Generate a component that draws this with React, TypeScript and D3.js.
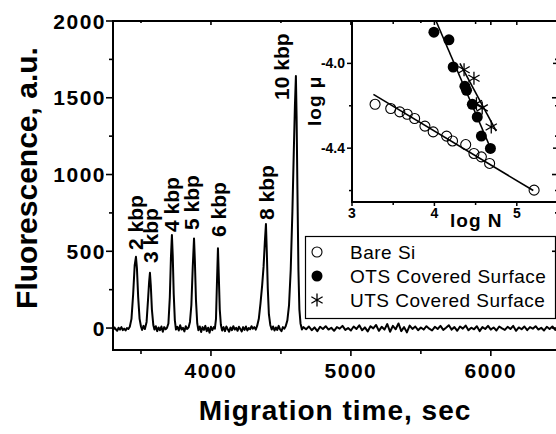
import { useEffect, useRef } from 'react';
import * as d3 from 'd3';

const W = 556,
    H = 434;

// electropherogram: [migration time (s), fluorescence (a.u.)]
const trace: [number, number][] = [
    [3300, -12], [3310, 4], [3320, -8], [3330, -18], [3340, 2], [3350, -10], [3360, 6], [3370, -14],
    [3380, -4], [3390, -16], [3400, 0], [3410, -6],
    [3420, 8], [3432, 60], [3444, 220], [3455, 410], [3464, 464], [3471, 390], [3480, 200], [3490, 60],
    [3500, 10], [3508, -12], [3518, 14], [3528, -6],
    [3540, 40], [3550, 180], [3558, 300], [3564, 360], [3570, 280], [3578, 120], [3588, 20], [3596, -10],
    [3606, 12], [3616, -20], [3626, 4], [3636, -14], [3646, 10], [3656, -24], [3666, 6], [3676, -8], [3686, 2],
    [3696, 30], [3706, 200], [3714, 460], [3721, 606], [3727, 470], [3734, 220], [3742, 50], [3750, -10],
    [3760, 8], [3770, -16], [3780, 18], [3790, -10], [3800, 2], [3810, -22], [3820, 12], [3830, -6], [3840, 4],
    [3850, 40], [3860, 150], [3870, 400], [3879, 584], [3885, 440], [3893, 180], [3902, 30], [3910, -14],
    [3920, 10], [3930, -26], [3940, 6], [3950, -12], [3960, 14], [3970, -20], [3980, 2], [3990, -30],
    [4000, 8], [4010, -14], [4020, 6], [4028, -4],
    [4036, 60], [4043, 300], [4050, 519], [4056, 340], [4063, 120], [4071, 20], [4080, -16],
    [4090, 6], [4100, -20], [4110, 10], [4120, -8], [4130, -24], [4140, 4], [4150, -14], [4160, 12],
    [4170, -10], [4180, 2], [4190, -18], [4200, 8], [4210, -6], [4220, -22], [4230, 6], [4240, -12],
    [4250, 10], [4260, -16], [4270, 0], [4280, -8], [4290, 12], [4300, -4], [4310, 6], [4320, -10],
    [4330, 14], [4342, 60], [4354, 160], [4366, 280], [4376, 400], [4385, 560], [4393, 677], [4399, 500],
    [4406, 260], [4414, 90], [4424, 20], [4434, -10],
    [4444, 10], [4454, -16], [4464, 4], [4474, -12], [4484, 14], [4494, -8], [4504, -20], [4514, 6],
    [4524, -4], [4534, 12],
    [4546, 50], [4558, 150], [4570, 380], [4582, 760], [4592, 1150], [4600, 1450], [4607, 1642],
    [4612, 1380], [4618, 900], [4625, 380], [4632, 120], [4640, 30], [4650, -10], [4660, 6],
    [4680, -8], [4700, 10], [4720, -14], [4740, 4], [4760, -20], [4780, 8], [4800, -6], [4820, 12],
    [4840, -10], [4860, 2], [4880, -18], [4900, 6], [4920, -4], [4940, 14], [4960, -12], [4980, 0],
    [5000, -16], [5020, 10], [5040, -6], [5060, 18], [5080, -14], [5100, 4], [5120, -22], [5140, 12],
    [5160, -2], [5180, 20], [5200, -18], [5220, 8], [5240, -10], [5260, 26], [5280, -24], [5300, 14],
    [5320, -8], [5340, 30], [5360, -20], [5380, 6], [5400, -28], [5420, 16], [5440, -6], [5460, 10],
    [5480, -14], [5500, 4], [5520, -10], [5540, 12], [5560, -4], [5580, -16], [5600, 8], [5620, -6],
    [5640, 14], [5660, -12], [5680, 2], [5700, 18], [5720, -10], [5740, 6], [5760, -18], [5780, 10],
    [5800, -4], [5820, 16], [5840, -14], [5860, 2], [5880, -8], [5900, 12], [5920, -20], [5940, 6],
    [5960, -6], [5980, 14], [6000, -10], [6020, 4], [6040, -16], [6060, 10], [6080, -2], [6100, -12],
    [6120, 8], [6140, -6], [6160, 14], [6180, -18], [6200, 4], [6220, -8], [6240, 10], [6260, -14],
    [6280, 6], [6300, -4], [6320, 12], [6340, -10], [6360, 2], [6380, -16], [6400, 8], [6420, -6],
    [6440, 10], [6460, -12], [6480, 4],
];

const peakLabels = ['2 kbp', '3 kbp', '4 kbp', '5 kbp', '6 kbp', '8 kbp', '10 kbp'];
// where each label starts (time, fluorescence)
const peakLabelAt: [number, number][] = [
    [3514, 508], [3622, 424], [3772, 626], [3915, 639], [4108, 593], [4451, 704], [4558, 1486],
];

const xMajor = [4000, 5000, 6000];
const xMinor = [3500, 4500, 5500, 6500];
const yMajor = [0, 500, 1000, 1500, 2000];
const yMinor = [250, 750, 1250, 1750];

// inset: log mobility vs log N
const bareSi: [number, number][] = [
    [3.28, -4.193], [3.47, -4.213], [3.58, -4.229], [3.67, -4.24], [3.76, -4.26], [3.885, -4.296],
    [3.985, -4.323], [4.148, -4.343], [4.22, -4.366], [4.38, -4.383], [4.48, -4.425], [4.57, -4.441],
    [4.67, -4.472], [5.21, -4.598],
];
const ots: [number, number][] = [
    [3.994, -3.853], [4.176, -3.889], [4.228, -4.017], [4.37, -4.108], [4.39, -4.127], [4.46, -4.193],
    [4.52, -4.253], [4.57, -4.343], [4.68, -4.401],
];
const uts: [number, number][] = [
    [4.36, -4.03], [4.48, -4.07], [4.51, -4.19], [4.58, -4.21], [4.69, -4.3],
];
const bareFit: [number, number][] = [[3.26, -4.146], [5.2, -4.6]];
const otsFit: [number, number][] = [[4.02, -3.8], [4.67, -4.39]];
const utsFit: [number, number][] = [[4.31, -4.0], [4.75, -4.32]];

const insetXMajor = [3, 4, 5];
const insetXMinor = [3.5, 4.5, 5.5];
const insetYMajor = [-4.4, -4.0];
const insetYMinor = [-4.6, -4.2, -3.8];

const legendLabels = ['Bare Si', 'OTS Covered Surface', 'UTS Covered Surface'];

const FONT = '"Liberation Sans", Arial, Helvetica, sans-serif';

const starPath = (r: number) => {
    let p = '';
    [90, 30, 150].forEach((a) => {
        const dx = r * Math.cos((a * Math.PI) / 180);
        const dy = r * Math.sin((a * Math.PI) / 180);
        p += `M${-dx},${dy}L${dx},${-dy}`;
    });
    return p;
};

const App = () => {
    const ref = useRef<SVGSVGElement>(null);

    useEffect(() => {
        const svg = d3.select(ref.current).attr('width', W).attr('height', H);
        svg.selectAll('*').remove();

        const left = 113,
            right = 558,
            top = 21,
            bottom = 350;

        const x = d3.scaleLinear().domain([3300, 6480]).range([left, right]);
        const y = d3.scaleLinear().domain([-143, 2000]).range([bottom, top]);

        svg.append('rect').attr('width', W).attr('height', H).attr('fill', 'white');

        // trace
        const line = d3
            .line<[number, number]>()
            .x((d) => x(d[0]))
            .y((d) => y(d[1]));
        svg.append('path')
            .datum(trace)
            .attr('d', line)
            .attr('fill', 'none')
            .attr('stroke', 'black')
            .attr('stroke-width', 2)
            .attr('stroke-linejoin', 'round');

        // peak labels
        svg.selectAll('.peak')
            .data(peakLabels)
            .enter()
            .append('text')
            .attr('transform', (d, i) => `translate(${x(peakLabelAt[i][0])},${y(peakLabelAt[i][1])}) rotate(-90)`)
            .attr('font-family', FONT)
            .attr('font-size', 21)
            .attr('font-weight', 'bold')
            .text((d) => d);

        // inset
        const ileft = 352,
            ibottom = 202;
        const ix = d3.scaleLinear().domain([3, 5.5]).range([ileft, right]);
        const iy = d3.scaleLinear().domain([-4.654, -3.8]).range([ibottom, top]);
        const inset = svg.append('g');
        inset.append('rect')
            .attr('x', ileft)
            .attr('y', top)
            .attr('width', right - ileft)
            .attr('height', ibottom - top)
            .attr('fill', 'white');

        const iline = d3
            .line<[number, number]>()
            .x((d) => ix(d[0]))
            .y((d) => iy(d[1]));
        [bareFit, otsFit, utsFit].forEach((f) => {
            inset.append('path').datum(f).attr('d', iline).attr('stroke', 'black').attr('stroke-width', 1.6);
        });
        inset.selectAll('.bare')
            .data(bareSi)
            .enter()
            .append('circle')
            .attr('cx', (d) => ix(d[0]))
            .attr('cy', (d) => iy(d[1]))
            .attr('r', 5)
            .attr('fill', 'none')
            .attr('stroke', 'black')
            .attr('stroke-width', 1.1);
        inset.selectAll('.ots')
            .data(ots)
            .enter()
            .append('circle')
            .attr('cx', (d) => ix(d[0]))
            .attr('cy', (d) => iy(d[1]))
            .attr('r', 5.5)
            .attr('fill', 'black');
        inset.selectAll('.uts')
            .data(uts)
            .enter()
            .append('path')
            .attr('transform', (d) => `translate(${ix(d[0])},${iy(d[1])})`)
            .attr('d', starPath(6.5))
            .attr('stroke', 'black')
            .attr('stroke-width', 1.3);

        // inset ticks
        const itick = (vals: number[], len: number) => {
            vals.forEach((v) => {
                inset.append('line').attr('x1', ileft).attr('x2', ileft - len).attr('y1', iy(v)).attr('y2', iy(v));
                inset.append('line').attr('x1', right).attr('x2', right - len).attr('y1', iy(v)).attr('y2', iy(v));
            });
        };
        itick(insetYMajor, 5);
        itick(insetYMinor, 3);
        const itickX = (vals: number[], len: number) => {
            vals.forEach((v) => {
                inset.append('line').attr('x1', ix(v)).attr('x2', ix(v)).attr('y1', ibottom).attr('y2', ibottom + len);
                inset.append('line').attr('x1', ix(v)).attr('x2', ix(v)).attr('y1', top).attr('y2', top + len);
            });
        };
        itickX(insetXMajor, 4);
        itickX(insetXMinor, 3);
        inset.selectAll('line').attr('stroke', 'black').attr('stroke-width', 1.5);

        inset.selectAll('.iyl')
            .data(insetYMajor)
            .enter()
            .append('text')
            .attr('x', 345)
            .attr('y', (d) => iy(d))
            .attr('dy', '0.36em')
            .attr('text-anchor', 'end')
            .attr('font-family', FONT)
            .attr('font-size', 14)
            .attr('font-weight', 'bold')
            .text((d) => d.toFixed(1));
        inset.selectAll('.ixl')
            .data(insetXMajor)
            .enter()
            .append('text')
            .attr('x', (d) => ix(d))
            .attr('y', 218)
            .attr('text-anchor', 'middle')
            .attr('font-family', FONT)
            .attr('font-size', 14)
            .attr('font-weight', 'bold')
            .text((d) => d);
        inset.append('text')
            .attr('x', 450)
            .attr('y', 227)
            .attr('font-family', FONT)
            .attr('font-size', 19)
            .attr('font-weight', 'bold')
            .attr('letter-spacing', 1)
            .text('log N');
        inset.append('text')
            .attr('transform', 'translate(321,126) rotate(-90)')
            .attr('font-family', FONT)
            .attr('font-size', 19)
            .attr('font-weight', 'bold')
            .attr('letter-spacing', 1)
            .text('log μ');
        inset.append('rect')
            .attr('x', ileft)
            .attr('y', top)
            .attr('width', right - ileft)
            .attr('height', ibottom - top)
            .attr('fill', 'none')
            .attr('stroke', 'black')
            .attr('stroke-width', 2);

        // legend
        const lg = svg.append('g');
        lg.append('rect')
            .attr('x', 305.5)
            .attr('y', 236.5)
            .attr('width', 250)
            .attr('height', 82)
            .attr('fill', 'white')
            .attr('stroke', 'black')
            .attr('stroke-width', 1.2);
        legendLabels.forEach((t, i) => {
            const cy = 252 + i * 24;
            if (i === 0) lg.append('circle').attr('cx', 317).attr('cy', cy).attr('r', 5).attr('fill', 'none').attr('stroke', 'black').attr('stroke-width', 1.1);
            if (i === 1) lg.append('circle').attr('cx', 317).attr('cy', cy).attr('r', 5.5).attr('fill', 'black');
            if (i === 2) lg.append('path').attr('transform', `translate(317,${cy})`).attr('d', starPath(6.5)).attr('stroke', 'black').attr('stroke-width', 1.3);
            lg.append('text')
                .attr('x', 350)
                .attr('y', cy)
                .attr('dy', '0.36em')
                .attr('font-family', FONT)
                .attr('font-size', 19)
                .attr('letter-spacing', 0.5)
                .text(t);
        });

        // main axes
        const ax = svg.append('g');
        const tickY = (vals: number[], len: number) => {
            vals.forEach((v) => {
                ax.append('line').attr('x1', left).attr('x2', left - len).attr('y1', y(v)).attr('y2', y(v));
                ax.append('line').attr('x1', right).attr('x2', right - len + 1).attr('y1', y(v)).attr('y2', y(v));
            });
        };
        tickY(yMajor, 7);
        tickY(yMinor, 4);
        const tickX = (vals: number[], len: number) => {
            vals.forEach((v) => {
                ax.append('line').attr('x1', x(v)).attr('x2', x(v)).attr('y1', bottom).attr('y2', bottom + len);
                ax.append('line').attr('x1', x(v)).attr('x2', x(v)).attr('y1', top).attr('y2', top + len - 2);
            });
        };
        tickX(xMajor, 6);
        tickX(xMinor, 4);
        ax.selectAll('line').attr('stroke', 'black').attr('stroke-width', 1.6);
        ax.append('rect')
            .attr('x', left)
            .attr('y', top)
            .attr('width', right - left)
            .attr('height', bottom - top)
            .attr('fill', 'none')
            .attr('stroke', 'black')
            .attr('stroke-width', 2);

        ax.selectAll('.yl')
            .data(yMajor)
            .enter()
            .append('text')
            .attr('x', 106)
            .attr('y', (d) => y(d))
            .attr('dy', '0.36em')
            .attr('text-anchor', 'end')
            .attr('font-family', FONT)
            .attr('font-size', 21)
            .attr('font-weight', 'bold')
            .attr('letter-spacing', 1.5)
            .text((d) => d);
        ax.selectAll('.xl')
            .data(xMajor)
            .enter()
            .append('text')
            .attr('x', (d) => x(d))
            .attr('y', 378)
            .attr('text-anchor', 'middle')
            .attr('font-family', FONT)
            .attr('font-size', 21)
            .attr('font-weight', 'bold')
            .attr('letter-spacing', 1.5)
            .text((d) => d);

        ax.append('text')
            .attr('x', 335)
            .attr('y', 420)
            .attr('text-anchor', 'middle')
            .attr('font-family', FONT)
            .attr('font-size', 28)
            .attr('font-weight', 'bold')
            .attr('letter-spacing', 1)
            .text('Migration time, sec');
        ax.append('text')
            .attr('transform', 'translate(37,178) rotate(-90)')
            .attr('text-anchor', 'middle')
            .attr('font-family', FONT)
            .attr('font-size', 30)
            .attr('font-weight', 'bold')
            .text('Fluorescence, a.u.');
    }, []);

    return <svg ref={ref} style={{ position: 'absolute', left: 0, top: 0 }}></svg>;
};

export default App;
